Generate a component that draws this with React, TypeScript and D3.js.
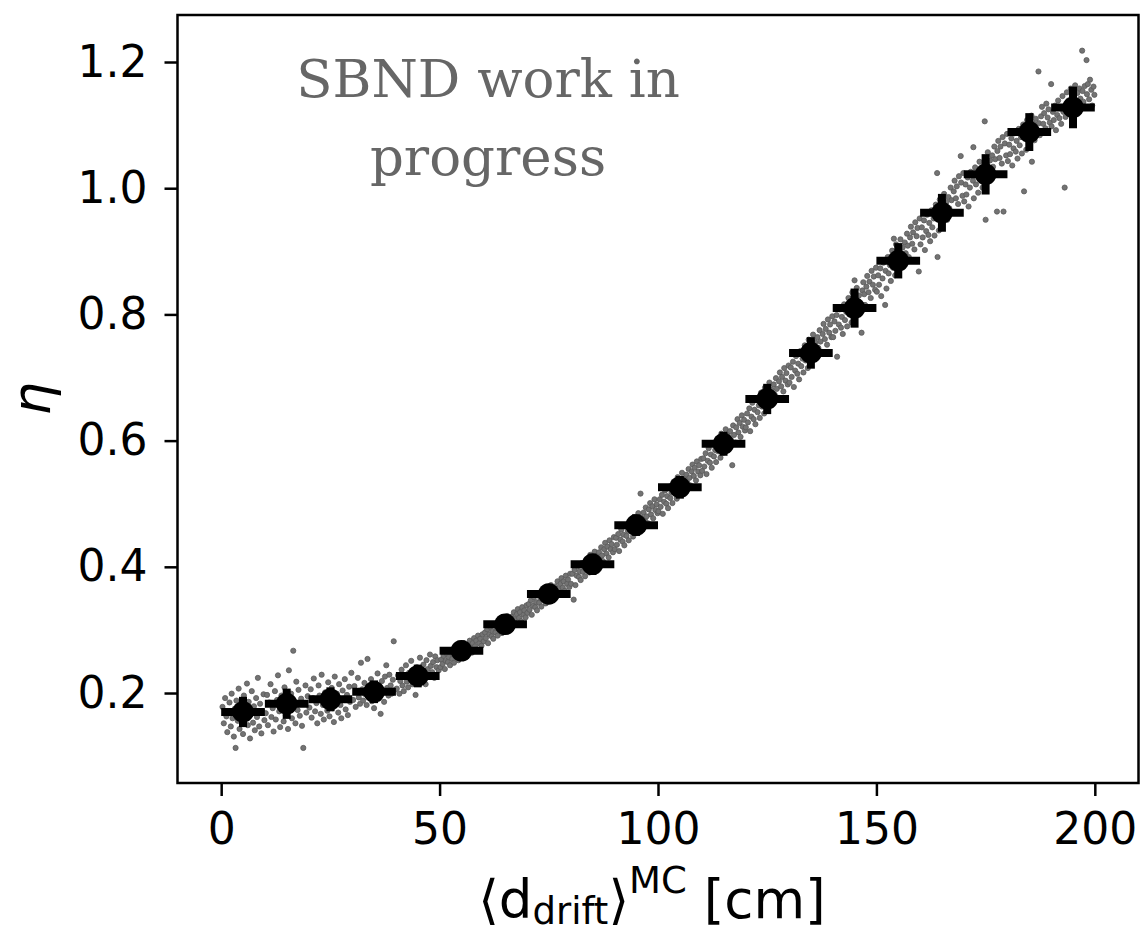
import React, { useEffect, useRef } from 'react';
import * as d3 from 'd3';

// binned means (black points)
const binCenters = [5, 15, 25, 35, 45, 55, 65, 75, 85, 95, 105, 115, 125, 135, 145, 155, 165, 175, 185, 195];
const binHalfWidth = [5, 5, 5, 5, 5, 5, 5, 5, 5, 5, 5, 5, 5, 5, 5, 5, 5, 5, 5, 5];
const binEta = [0.170, 0.183, 0.190, 0.202, 0.227, 0.267, 0.309, 0.357, 0.404, 0.466, 0.526, 0.595, 0.666, 0.739, 0.810, 0.885, 0.961, 1.022, 1.089, 1.128];
const binEtaErr = [0.024, 0.024, 0.019, 0.018, 0.018, 0.016, 0.016, 0.016, 0.017, 0.017, 0.018, 0.019, 0.024, 0.025, 0.031, 0.028, 0.030, 0.032, 0.030, 0.033];

const xTicks = [0, 50, 100, 150, 200];
const yTicks = [0.2, 0.4, 0.6, 0.8, 1.0, 1.2];

// individual events (gray dots), d_drift [cm] vs eta
const scatterNear: [number, number][] = [
  [0.3,.178],[0.6,.152],[0.9,.192],[1.2,.163],[1.4,.138],[1.7,.171],[1.9,.185],[2.2,.147],[2.4,.199],[2.6,.160],[2.9,.131],[3.1,.175],[3.3,.113],[3.5,.188],[3.8,.156],[4.0,.207],[4.2,.143],[4.5,.168],[4.7,.182],[5.0,.135],[5.2,.196],[5.4,.159],[5.7,.174],[5.9,.215],[6.1,.149],[6.3,.186],[6.6,.128],[6.8,.166],[7.0,.203],[7.3,.153],[7.5,.179],[7.7,.141],[8.0,.192],[8.2,.162],[8.4,.224],[8.7,.147],[8.9,.183],[9.2,.136],[9.4,.171],[9.7,.198],[9.9,.157],
  [10.2,.168],[10.5,.197],[10.7,.149],[11.0,.185],[11.3,.214],[11.5,.162],[11.8,.176],[12.0,.139],[12.3,.203],[12.5,.158],[12.8,.189],[13.0,.228],[13.3,.171],[13.5,.146],[13.8,.196],[14.0,.181],[14.3,.155],[14.5,.209],[14.8,.165],[15.0,.192],[15.3,.143],[15.5,.236],[15.7,.177],[16.0,.199],[16.2,.160],[16.5,.267],[16.7,.186],[17.0,.152],[17.2,.218],[17.5,.173],[17.7,.205],[18.0,.164],[18.3,.191],[18.5,.148],[18.8,.113],[19.0,.184],[19.3,.212],[19.5,.169],[19.8,.195],
  [20.2,.177],[20.5,.206],[20.7,.161],[21.0,.192],[21.2,.223],[21.5,.171],[21.8,.184],[22.0,.152],[22.3,.212],[22.5,.196],[22.8,.167],[23.0,.229],[23.3,.181],[23.5,.158],[23.8,.201],[24.0,.188],[24.3,.172],[24.5,.217],[24.8,.163],[25.0,.195],[25.3,.208],[25.5,.176],[25.8,.154],[26.0,.226],[26.3,.186],[26.5,.199],[26.8,.169],[27.0,.214],[27.3,.181],[27.5,.160],[27.8,.204],[28.0,.191],[28.3,.222],[28.5,.174],[28.8,.197],[29.0,.165],[29.3,.210],[29.5,.186],[29.8,.232],
  [30.2,.189],[30.5,.211],[30.8,.178],[31.0,.201],[31.3,.224],[31.5,.193],[31.8,.183],[32.0,.248],[32.3,.206],[32.5,.188],[32.8,.216],[33.0,.198],[33.3,.181],[33.5,.254],[33.8,.209],[34.0,.194],[34.3,.222],[34.5,.187],[34.8,.203],[35.0,.176],[35.3,.214],[35.5,.199],[35.8,.231],[36.0,.191],[36.3,.207],[36.5,.167],[36.8,.219],[37.0,.201],[37.3,.186],[37.5,.226],[37.8,.244],[38.0,.208],[38.3,.196],[38.5,.229],[38.8,.212],[39.0,.199],[39.3,.221],[39.5,.282],[39.8,.205],
  [40.2,.207],[40.5,.228],[40.8,.199],[41.0,.219],[41.3,.237],[41.5,.212],[41.8,.203],[42.0,.226],[42.3,.244],[42.5,.218],[42.8,.209],[43.0,.232],[43.3,.221],[43.5,.251],[43.8,.214],[44.0,.236],[44.3,.225],[44.5,.197],[44.8,.241],[45.0,.229],[45.3,.218],[45.5,.256],[45.8,.234],[46.0,.222],[46.3,.245],[46.5,.231],[46.8,.214],[47.0,.252],[47.3,.238],[47.5,.226],[47.8,.261],[48.0,.243],[48.3,.233],[48.5,.249],[48.8,.224],[49.0,.258],[49.3,.241],[49.5,.252],[49.8,.236],
];
const scatterMid: [number, number][] = [
  [50.2,.241],[50.4,.253],[50.7,.246],[50.9,.259],[51.2,.238],[51.4,.251],[51.7,.262],[51.9,.249],[52.1,.257],[52.4,.244],[52.6,.265],[52.9,.254],[53.1,.261],[53.3,.248],[53.6,.270],[53.8,.258],[54.1,.264],[54.3,.252],[54.5,.273],[54.8,.262],[55.0,.257],[55.2,.268],[55.5,.279],[55.7,.263],[56.0,.271],[56.2,.258],[56.4,.276],[56.7,.267],[56.9,.283],[57.2,.272],[57.4,.264],[57.6,.279],[57.9,.287],[58.1,.274],[58.4,.283],[58.6,.269],[58.8,.291],[59.1,.279],[59.3,.286],[59.6,.275],[59.8,.293],
  [60.1,.282],[60.4,.296],[60.6,.287],[60.9,.301],[61.1,.279],[61.4,.293],[61.6,.305],[61.9,.290],[62.1,.298],[62.3,.286],[62.6,.309],[62.8,.296],[63.1,.303],[63.3,.291],[63.6,.314],[63.8,.301],[64.0,.308],[64.3,.295],[64.5,.318],[64.8,.306],[65.0,.300],[65.3,.313],[65.5,.322],[65.7,.308],[66.0,.316],[66.2,.302],[66.5,.321],[66.7,.312],[67.0,.328],[67.2,.317],[67.4,.309],[67.7,.325],[67.9,.333],[68.2,.319],[68.4,.328],[68.7,.314],[68.9,.336],[69.2,.324],[69.4,.331],[69.7,.320],[69.9,.339],
  [70.1,.327],[70.4,.341],[70.6,.332],[70.9,.347],[71.1,.324],[71.4,.338],[71.6,.352],[71.9,.336],[72.1,.344],[72.3,.331],[72.6,.356],[72.8,.343],[73.1,.350],[73.3,.337],[73.6,.361],[73.8,.348],[74.0,.355],[74.3,.342],[74.5,.367],[74.8,.353],[75.0,.347],[75.3,.361],[75.5,.371],[75.7,.356],[76.0,.364],[76.2,.350],[76.5,.369],[76.7,.360],[77.0,.377],[77.2,.365],[77.4,.357],[77.7,.373],[77.9,.382],[78.2,.367],[78.4,.377],[78.7,.362],[78.9,.386],[79.2,.373],[79.4,.380],[79.7,.368],[79.9,.389],
  [80.1,.373],[80.4,.389],[80.7,.348],[80.9,.395],[81.1,.371],[81.4,.386],[81.6,.401],[81.9,.384],[82.1,.393],[82.3,.379],[82.6,.406],[82.8,.392],[83.1,.399],[83.3,.385],[83.6,.412],[83.8,.398],[84.0,.406],[84.3,.391],[84.5,.419],[84.8,.404],[85.0,.397],[85.3,.413],[85.5,.424],[85.7,.407],[86.0,.417],[86.2,.401],[86.5,.423],[86.7,.412],[87.0,.431],[87.2,.418],[87.4,.409],[87.7,.428],[87.9,.438],[88.2,.421],[88.4,.432],[88.7,.415],[88.9,.442],[89.2,.428],[89.4,.436],[89.7,.423],[89.9,.447],
  [90.1,.428],[90.4,.446],[90.6,.435],[90.9,.452],[91.1,.425],[91.4,.443],[91.6,.459],[91.9,.440],[92.1,.451],[92.3,.434],[92.6,.465],[92.8,.449],[93.1,.457],[93.3,.442],[93.6,.472],[93.8,.456],[94.0,.464],[94.3,.448],[94.5,.479],[94.8,.462],[95.0,.455],[95.3,.473],[95.5,.485],[95.7,.466],[96.0,.516],[96.2,.478],[96.5,.461],[96.7,.486],[97.0,.474],[97.2,.494],[97.4,.480],[97.7,.469],[97.9,.491],[98.2,.501],[98.4,.483],[98.7,.496],[98.9,.477],[99.2,.507],[99.4,.490],[99.7,.499],[99.9,.485],
  [100.1,.488],[100.4,.507],[100.6,.495],[100.9,.514],[101.1,.484],[101.4,.503],[101.6,.521],[101.9,.500],[102.1,.512],[102.3,.493],[102.6,.527],[102.8,.509],[103.1,.518],[103.3,.501],[103.6,.535],[103.8,.517],[104.0,.526],[104.3,.508],[104.5,.542],[104.8,.523],[105.0,.515],[105.3,.535],[105.5,.549],[105.7,.528],[106.0,.540],[106.2,.521],[106.5,.546],[106.7,.533],[107.0,.555],[107.2,.541],[107.4,.529],[107.7,.551],[107.9,.562],[108.2,.544],[108.4,.557],[108.7,.537],[108.9,.567],[109.2,.551],[109.4,.561],[109.7,.545],[109.9,.571],
  [110.1,.552],[110.4,.572],[110.6,.559],[110.9,.580],[111.1,.547],[111.4,.568],[111.6,.588],[111.9,.565],[112.1,.578],[112.3,.557],[112.6,.595],[112.8,.575],[113.1,.585],[113.3,.566],[113.6,.603],[113.8,.583],[114.0,.593],[114.3,.573],[114.5,.611],[114.8,.590],[115.0,.581],[115.3,.603],[115.5,.618],[115.7,.595],[116.0,.608],[116.2,.588],[116.5,.615],[116.7,.601],[117.0,.561],[117.2,.624],[117.4,.609],[117.7,.597],[117.9,.621],[118.2,.634],[118.4,.613],[118.7,.628],[118.9,.606],[119.2,.640],[119.4,.622],[119.7,.633],[119.9,.616],
  [120.1,.621],[120.4,.643],[120.6,.629],[120.9,.651],[121.1,.615],[121.4,.638],[121.6,.660],[121.9,.634],[122.1,.649],[122.3,.626],[122.6,.667],[122.8,.645],[123.1,.656],[123.3,.636],[123.6,.676],[123.8,.654],[124.0,.665],[124.3,.643],[124.5,.684],[124.8,.661],[125.0,.652],[125.3,.675],[125.5,.692],[125.7,.667],[126.0,.681],[126.2,.659],[126.5,.689],[126.7,.673],[127.0,.699],[127.2,.682],[127.4,.668],[127.7,.694],[127.9,.708],[128.2,.686],[128.4,.701],[128.7,.678],[128.9,.715],[129.2,.695],[129.4,.707],[129.7,.689],[129.9,.719],
];
const scatterFar: [number, number][] = [
  [130.1,.692],[130.4,.716],[130.6,.701],[130.9,.725],[131.1,.685],[131.4,.711],[131.6,.734],[131.9,.706],[132.1,.722],[132.3,.697],[132.6,.742],[132.8,.718],[133.1,.730],[133.3,.708],[133.6,.751],[133.8,.727],[134.0,.739],[134.3,.715],[134.5,.760],[134.8,.734],[135.0,.724],[135.3,.749],[135.5,.768],[135.7,.741],[136.0,.756],[136.2,.731],[136.5,.764],[136.7,.747],[137.0,.775],[137.2,.757],[137.4,.741],[137.7,.769],[137.9,.785],[138.2,.761],[138.4,.777],[138.7,.752],[138.9,.792],[139.2,.771],[139.4,.784],[139.7,.764],[139.9,.797],
  [140.1,.764],[140.4,.789],[140.6,.774],[140.9,.799],[141.0,.733],[141.4,.784],[141.6,.808],[141.9,.779],[142.1,.796],[142.3,.769],[142.6,.816],[142.8,.791],[143.1,.804],[143.3,.781],[143.6,.826],[143.8,.800],[144.0,.813],[144.3,.787],[144.5,.835],[144.8,.808],[145.0,.854],[145.3,.822],[145.5,.842],[145.7,.814],[146.0,.830],[146.2,.804],[146.6,.771],[146.8,.838],[147.0,.851],[147.2,.832],[147.4,.815],[147.7,.844],[147.9,.861],[148.2,.835],[148.4,.852],[148.7,.826],[148.9,.869],[149.2,.847],[149.4,.860],[149.7,.839],[149.9,.874],
  [150.1,.836],[150.4,.862],[150.6,.847],[150.9,.873],[151.1,.829],[151.4,.857],[151.6,.882],[152.0,.815],[152.1,.869],[152.3,.841],[152.6,.891],[152.8,.865],[153.1,.878],[153.3,.853],[153.6,.901],[153.8,.874],[154.0,.920],[154.3,.862],[154.5,.911],[154.8,.884],[155.0,.873],[155.3,.899],[155.5,.919],[155.7,.890],[156.0,.906],[156.2,.879],[156.5,.914],[156.7,.897],[157.0,.928],[157.2,.909],[157.4,.891],[157.7,.922],[157.9,.939],[158.2,.912],[158.4,.930],[158.7,.903],[158.9,.946],[159.2,.924],[159.4,.937],[159.7,.868],[159.9,.952],
  [160.1,.911],[160.4,.938],[160.6,.922],[160.9,.949],[161.1,.902],[161.4,.932],[161.6,.958],[161.9,.926],[162.1,.945],[162.3,.916],[162.6,.965],[162.8,.938],[163.1,.952],[163.3,.925],[163.6,.974],[163.9,1.024],[164.0,.891],[164.3,.933],[164.5,.982],[164.8,.955],[165.0,.943],[165.3,.970],[165.5,.991],[165.7,.961],[166.0,.978],[166.2,.950],[166.5,.986],[166.7,.968],[167.0,1.001],[167.2,.981],[167.4,.962],[167.7,.995],[167.9,1.012],[168.2,.984],[168.4,1.003],[168.7,.975],[168.9,1.019],[169.3,1.051],[169.4,1.009],[169.7,.988],[169.9,1.024],
  [170.1,.979],[170.4,1.006],[170.6,.990],[170.9,1.017],[171.1,.971],[171.4,1.001],[171.6,1.026],[172.2,1.065],[172.1,1.012],[172.3,.984],[172.6,1.033],[172.8,1.006],[173.1,1.020],[173.3,.993],[173.6,1.042],[173.8,1.015],[174.0,1.029],[174.3,1.001],[174.8,1.106],[175.0,.950],[175.0,1.011],[175.3,1.038],[175.5,1.057],[175.7,1.028],[176.0,1.044],[176.2,1.017],[176.5,1.052],[176.7,1.034],[177.0,1.066],[177.2,1.046],[177.6,.963],[177.7,1.059],[177.9,1.075],[178.2,1.048],[178.4,1.066],[178.7,1.039],[178.9,1.081],[179.1,.963],[179.4,1.071],[179.7,1.052],[179.9,1.086],
  [180.1,1.043],[180.4,1.069],[180.6,1.054],[180.9,1.079],[181.1,1.036],[181.4,1.063],[181.6,1.087],[181.9,1.058],[182.1,1.075],[182.3,1.047],[182.6,1.094],[182.8,1.068],[183.1,1.081],[183.3,1.055],[183.8,.995],[183.6,1.101],[184.0,1.088],[184.3,1.061],[184.5,1.108],[184.8,1.083],[185.0,1.073],[185.6,1.042],[185.5,1.115],[185.7,1.088],[186.0,1.102],[186.2,1.076],[186.5,1.110],[186.7,1.093],[187.1,1.185],[187.2,1.103],[187.4,1.084],[187.7,1.114],[187.9,1.129],[188.2,1.102],[188.4,1.119],[188.7,1.095],[188.9,1.134],[189.2,1.112],[189.4,1.125],[189.7,1.104],[190.0,1.165],
  [190.1,1.098],[190.4,1.121],[190.6,1.108],[190.9,1.131],[191.1,1.092],[191.4,1.116],[191.6,1.139],[191.9,1.111],[192.1,1.127],[192.3,1.102],[192.6,1.146],[192.8,1.121],[193.1,1.001],[193.3,1.113],[193.6,1.152],[193.8,1.128],[194.0,1.139],[194.3,1.117],[194.5,1.158],[194.8,1.134],[195.0,1.124],[195.3,1.147],[195.5,1.163],[195.7,1.136],[196.0,1.151],[196.2,1.127],[196.5,1.158],[196.7,1.142],[197.1,1.218],[197.2,1.154],[197.4,1.137],[197.7,1.162],[198.1,1.203],[198.2,1.149],[198.4,1.165],[198.7,1.141],[198.9,1.172],[199.2,1.156],[199.4,1.131],[199.7,1.161],[199.9,1.148],
];

const annotationLines = ['SBND work in', 'progress'];

export default function App() {
  const ref = useRef<SVGSVGElement>(null);

  useEffect(() => {
    draw();
    // eslint-disable-next-line react-hooks/exhaustive-deps
  }, []);

  function draw() {
    const svg = d3.select(ref.current);
    svg.selectAll('*').remove();
    const width = 1140;
    const height = 927;
    const margin = { top: 15, right: 1.5, bottom: 144, left: 177.5 };
    const innerWidth = width - margin.left - margin.right;
    const innerHeight = height - margin.top - margin.bottom;
    const g = svg.append('g').attr('transform', `translate(${margin.left},${margin.top})`);

    const xScale = d3.scaleLinear().domain([-10, 210]).range([0, innerWidth]);
    const yScale = d3.scaleLinear().domain([0.0574, 1.2745]).range([innerHeight, 0]);

    // scatter of events
    const points = [...scatterNear, ...scatterMid, ...scatterFar];
    g.append('g')
      .selectAll('circle')
      .data(points)
      .join('circle')
      .attr('cx', (d) => xScale(d[0]))
      .attr('cy', (d) => yScale(d[1]))
      .attr('r', 2.6)
      .attr('fill', '#737373')
      .attr('stroke', '#5a5a5a')
      .attr('stroke-width', 0.8);

    // binned means with error bars
    const bins = binCenters.map((x, i) => ({ x, xe: binHalfWidth[i], y: binEta[i], ye: binEtaErr[i] }));
    const eb = g.append('g');
    eb.selectAll('.xerr')
      .data(bins)
      .join('line')
      .attr('x1', (d) => xScale(d.x - d.xe))
      .attr('x2', (d) => xScale(d.x + d.xe))
      .attr('y1', (d) => yScale(d.y))
      .attr('y2', (d) => yScale(d.y))
      .attr('stroke', '#000')
      .attr('stroke-width', 8);
    eb.selectAll('.yerr')
      .data(bins)
      .join('line')
      .attr('x1', (d) => xScale(d.x))
      .attr('x2', (d) => xScale(d.x))
      .attr('y1', (d) => yScale(d.y - d.ye))
      .attr('y2', (d) => yScale(d.y + d.ye))
      .attr('stroke', '#000')
      .attr('stroke-width', 8);
    eb.selectAll('circle')
      .data(bins)
      .join('circle')
      .attr('cx', (d) => xScale(d.x))
      .attr('cy', (d) => yScale(d.y))
      .attr('r', 10.8)
      .attr('fill', '#000');

    // axes
    const xAxis = d3.axisBottom(xScale).tickValues(xTicks).tickSize(13).tickPadding(17).tickFormat(d3.format('d'));
    const yAxis = d3.axisLeft(yScale).tickValues(yTicks).tickSize(13).tickPadding(17).tickFormat(d3.format('.1f'));
    const gx = g.append('g').attr('transform', `translate(0,${innerHeight})`).call(xAxis);
    const gy = g.append('g').call(yAxis);
    [gx, gy].forEach((ax) => {
      ax.select('.domain').remove();
      ax.selectAll('line').attr('stroke', '#000').attr('stroke-width', 2.5);
      ax.selectAll('text')
        .attr('fill', '#000')
        .style('font-family', '"DejaVu Sans", sans-serif')
        .style('font-size', '44px');
    });

    // frame
    g.append('rect')
      .attr('width', innerWidth)
      .attr('height', innerHeight)
      .attr('fill', 'none')
      .attr('stroke', '#000')
      .attr('stroke-width', 2.5);

    // axis titles
    const xl = g
      .append('text')
      .attr('x', innerWidth / 2 - 6)
      .attr('y', 918 - margin.top)
      .attr('text-anchor', 'middle')
      .style('font-family', '"DejaVu Sans", sans-serif')
      .style('font-size', '53px')
      .style('white-space', 'pre')
      .attr('fill', '#000');
    xl.append('tspan').text('\u27e8d');
    xl.append('tspan').attr('dy', 6).style('font-size', '37px').text('drift');
    xl.append('tspan').attr('dy', -6).text('\u27e9');
    xl.append('tspan').attr('dy', -25).style('font-size', '37px').text('MC');
    xl.append('tspan').attr('dy', 25).text(' [cm]');

    svg
      .append('text')
      .attr('transform', `translate(50,${margin.top + innerHeight / 2}) rotate(-90)`)
      .attr('text-anchor', 'middle')
      .style('font-family', '"DejaVu Sans", sans-serif')
      .style('font-size', '53px')
      .style('font-style', 'italic')
      .attr('fill', '#000')
      .text('\u03b7');

    // annotation
    g.append('g')
      .selectAll('text')
      .data(annotationLines)
      .join('text')
      .attr('x', 488 - margin.left)
      .attr('y', (d, i) => 97 - margin.top + i * 78)
      .attr('text-anchor', 'middle')
      .style('font-family', '"DejaVu Serif", serif')
      .style('font-size', '53px')
      .attr('fill', '#666666')
      .text((d) => d);
  }

  return (
    <div style={{ position: 'absolute', left: 0, top: 0 }}>
      <svg ref={ref} width={1140} height={927} style={{ display: 'block', background: '#fff' }}></svg>
    </div>
  );
}
